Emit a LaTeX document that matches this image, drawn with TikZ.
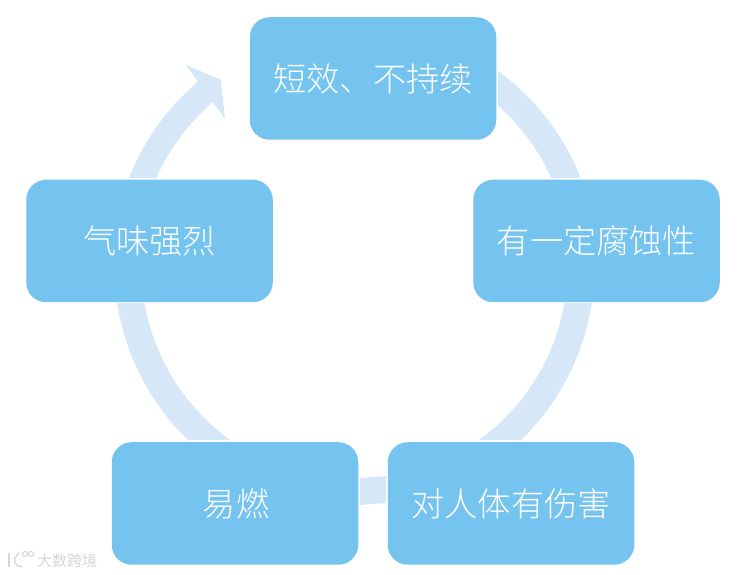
\documentclass[tikz,border=0pt]{standalone}
\usepackage{fontspec}
\newfontfamily\cjk[UprightFont={* Light}]{Noto Sans CJK SC}
\newfontfamily\cjkmark{Noto Sans CJK SC}
\definecolor{boxblue}{HTML}{75C3EF}
\definecolor{ringblue}{HTML}{D6E8F8}
\definecolor{markgrey}{HTML}{D6D6D6}
\tikzset{
  stagebox/.style={fill=boxblue,rounded corners=20pt,minimum width=246.5pt,minimum height=122.5pt,
    inner sep=0pt,text=white,font=\cjk\fontsize{33.2}{33.2}\selectfont},
  ringband/.style={draw=ringblue,line width=27pt},
  ringfill/.style={fill=ringblue,draw=none},
  markline/.style={draw=markgrey,line width=1.4pt,fill=none}
}
\begin{document}
\begin{tikzpicture}[x=1pt,y=1pt]
\useasboundingbox (0,0) rectangle (742,575);
\fill[white] (0,0) rectangle (742,575);
\coordinate (ringc) at (354.5,308);
% top-right band
\begin{scope}
\clip (498,397) rectangle (610,530);
\draw[ringband] (ringc) ++(62:229.5) arc[start angle=62,end angle=10,radius=229.5];
\end{scope}
% bottom-right band
\begin{scope}
\clip (450,135) rectangle (610,271);
\draw[ringband] (ringc) ++(0:226.5) arc[start angle=0,end angle=-70,radius=226.5];
\end{scope}
% bottom piece
\fill[ringfill] (360,97) -- (386,99) -- (386,72) -- (360,70) -- cycle;
% bottom-left band
\begin{scope}
\clip (100,135) rectangle (260,271);
\draw[ringband] (ringc) ++(180:226.5) arc[start angle=180,end angle=250,radius=226.5];
\end{scope}
% top-left arrow
\fill[ringfill] (129,397) arc[start angle=158.5,end angle=130.3,radius=243]
  -- (186,510) -- (221,495) -- (225,456) -- (213,473)
  arc[start angle=130.6,end angle=156,radius=216] -- cycle;
% stages
\node[stagebox] (n1) at (373,496.5) {短效、不持续};
\node[stagebox] (n2) at (596.5,334) {有一定腐蚀性};
\node[stagebox] (n3) at (511,71.5) {对人体有伤害};
\node[stagebox] (n4) at (235,71.5) {\hspace*{2pt}易燃};
\node[stagebox] (n5) at (149.5,334) {气味强烈};
% watermark
\node[text=markgrey,font=\cjkmark\fontsize{15}{15}\selectfont,inner sep=0pt] (mark) at (67,14.5) {大数跨境};
\draw[markline] (9,22) -- (9,8);
\draw[markline] (19,22) .. controls (13,16) and (12,10) .. (22,8);
\draw[markline,line width=1pt] (25,21) circle (2.6);
\draw[markline,line width=1pt] (31,21) circle (2.6);
\end{tikzpicture}
\end{document}
